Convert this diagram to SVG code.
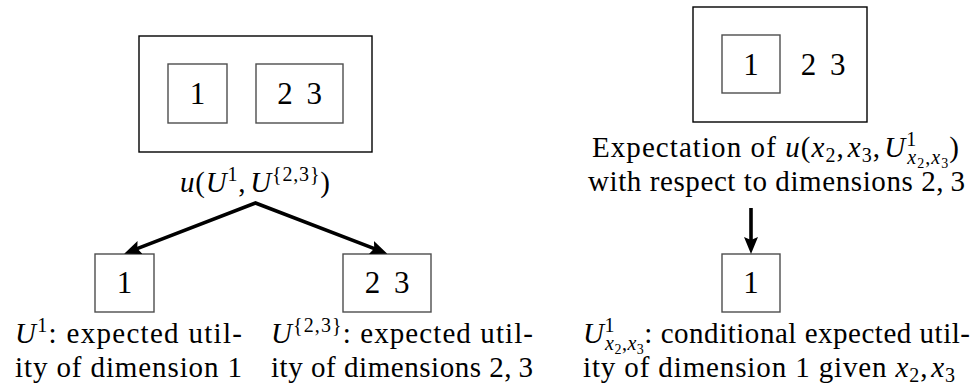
<svg xmlns="http://www.w3.org/2000/svg" width="978" height="392" viewBox="0 0 978 392" font-family="Liberation Serif">
<style>
.box{fill:none;stroke:#000;stroke-width:1.4}
.inner{fill:none;stroke:#4d4d4d;stroke-width:1.4}
text{font-family:"Liberation Serif",serif;fill:#000;font-size:29px}
.num{font-size:31px;text-anchor:middle}
.i{font-style:italic}
.conn{fill:none;stroke:#000;stroke-width:3.6;stroke-linejoin:miter}
.sup{font-size:20px}
.ss{font-size:14px}
</style>
<defs>
<marker id="ah" viewBox="0 0 17 14" refX="8" refY="7" markerWidth="17" markerHeight="14" markerUnits="userSpaceOnUse" orient="auto-start-reverse">
<path d="M0,0 L17,7 L0,14 L3,7 z" fill="#000"/>
</marker>
</defs>
<rect x="0" y="0" width="978" height="392" fill="#fff"/>

<g id="left-top">
<rect class="box" x="139" y="36" width="233" height="116"/>
<rect class="inner" x="168" y="64" width="59" height="59"/>
<rect class="inner" x="256" y="64" width="87" height="59"/>
<text class="num" x="197.5" y="104">1</text>
<text class="num" x="299.5" y="104">2<tspan dx="6"> 3</tspan></text>
<text x="180" y="192" textLength="150" lengthAdjust="spacing"><tspan class="i">u</tspan>(<tspan class="i">U</tspan><tspan class="sup" dy="-11">1</tspan><tspan dy="11">,</tspan><tspan class="i" dx="4">U</tspan><tspan class="sup" dy="-11">{2,3}</tspan><tspan dy="11">)</tspan></text>
</g>

<g id="left-bottom-1">
<rect class="inner" x="95" y="254" width="59" height="58"/>
<text class="num" x="124.5" y="293">1</text>
<text x="15" y="343" textLength="227" lengthAdjust="spacing"><tspan class="i">U</tspan><tspan class="sup" dy="-11">1</tspan><tspan dy="11">: expected util-</tspan></text>
<text x="15" y="376.5" textLength="227" lengthAdjust="spacing">ity of dimension 1</text>
</g>

<g id="left-bottom-23">
<rect class="inner" x="343" y="254" width="88" height="58"/>
<text class="num" x="387" y="293">2<tspan dx="6"> 3</tspan></text>
<text x="271" y="343" textLength="262" lengthAdjust="spacing"><tspan class="i">U</tspan><tspan class="sup" dy="-11">{2,3}</tspan><tspan dy="11">: expected util-</tspan></text>
<text x="271" y="376.5" textLength="262" lengthAdjust="spacing">ity of dimensions 2,&#8201;3</text>
</g>

<g id="right-top">
<rect class="box" x="693" y="7" width="174" height="115"/>
<rect class="inner" x="722" y="35" width="58" height="58"/>
<text class="num" x="751" y="75">1</text>
<text class="num" x="823" y="75">2<tspan dx="6"> 3</tspan></text>
<text x="592" y="157" textLength="367" lengthAdjust="spacing">Expectation of <tspan class="i">u</tspan>(<tspan class="i">x</tspan><tspan class="sup" dy="5">2</tspan><tspan dy="-5">,</tspan><tspan class="i" dx="3">x</tspan><tspan class="sup" dy="5">3</tspan><tspan dy="-5">,</tspan><tspan class="i" dx="3">U</tspan><tspan class="sup" dy="-11">1</tspan><tspan class="sup i" dx="-10" dy="18">x</tspan><tspan class="ss" dy="4">2</tspan><tspan class="sup" dy="-4">,</tspan><tspan class="sup i">x</tspan><tspan class="ss" dy="4">3</tspan><tspan dy="-11">)</tspan></text>
<text x="588" y="190.5" textLength="377" lengthAdjust="spacing">with respect to dimensions 2,&#8201;3</text>
</g>

<g id="right-bottom">
<rect class="inner" x="722" y="254" width="58" height="58"/>
<text class="num" x="751" y="293">1</text>
<text x="583" y="343" textLength="387" lengthAdjust="spacing"><tspan class="i">U</tspan><tspan class="sup" dy="-11">1</tspan><tspan class="sup i" dx="-10" dy="18">x</tspan><tspan class="ss" dy="4">2</tspan><tspan class="sup" dy="-4">,</tspan><tspan class="sup i">x</tspan><tspan class="ss" dy="4">3</tspan><tspan dy="-11">: conditional expected util-</tspan></text>
<text x="583" y="376.5" textLength="372" lengthAdjust="spacing">ity of dimension 1 given <tspan class="i">x</tspan><tspan class="sup" dy="5">2</tspan><tspan dy="-5">,</tspan><tspan class="i" dx="3">x</tspan><tspan class="sup" dy="5">3</tspan></text>
</g>

<g id="connectors">
<path class="conn" d="M132.6,250.4 L255.5,203 L378.9,250.4" marker-start="url(#ah)" marker-end="url(#ah)"/>
<path class="conn" d="M751,208 L751,245" marker-end="url(#ah)"/>
</g>
</svg>
